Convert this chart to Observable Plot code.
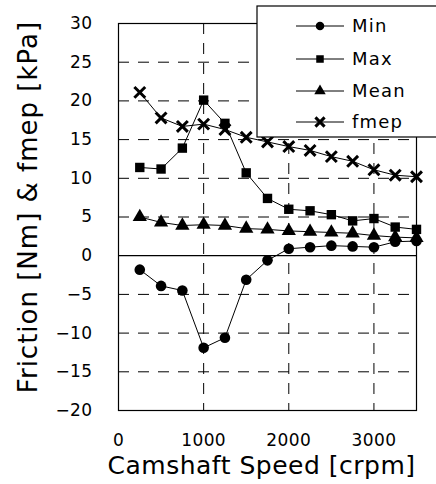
<!DOCTYPE html>
<html><head>
<meta charset="utf-8">
<script src="https://cdn.jsdelivr.net/npm/d3@7"></script>
<script src="https://cdn.jsdelivr.net/npm/@observablehq/plot@0.6"></script>
<style>
body{margin:0;background:#fff;}
#wrap{position:relative;width:436px;height:484px;overflow:hidden;}
#legend{position:absolute;left:0;top:0;}
</style>
</head><body><div id="wrap"></div>
<script>
const speeds = [250,500,750,1000,1250,1500,1750,2000,2250,2500,2750,3000,3250,3500];
const minVals  = [-1.8,-3.9,-4.5,-11.9,-10.6,-3.1,-0.6,0.9,1.1,1.3,1.2,1.1,1.8,1.9];
const maxVals  = [11.4,11.2,13.9,20.1,17.1,10.7,7.4,6.0,5.8,5.3,4.5,4.8,3.7,3.4];
const meanVals = [5.0,4.3,3.9,4.0,3.9,3.5,3.4,3.2,3.1,3.0,2.9,2.6,2.4,2.3];
const fmepVals = [21.1,17.8,16.7,17.0,16.3,15.3,14.7,14.1,13.6,12.8,12.2,11.1,10.4,10.2];
const seriesNames = ["Min","Max","Mean","fmep"];
const seriesSymbols = ["circle","square","triangle","times"];
const xTicks = [0,1000,2000,3000];
const yTicks = [-20,-15,-10,-5,0,5,10,15,20,25,30];
const gridXVals = [1000,2000,3000];
const gridYVals = [-15,-10,-5,5,10,15,20,25];
const xLabel = "Camshaft Speed [crpm]";
const yLabel = "Friction [Nm] & fmep [kPa]";

const valueSets = [minVals, maxVals, meanVals, fmepVals];
const data = [];
seriesNames.forEach((s, i) => speeds.forEach((x, j) => data.push({series: s, speed: x, value: valueSets[i][j]})));

const font = "'DejaVu Sans', sans-serif";
const chart = Plot.plot({
  width: 436, height: 484,
  marginLeft: 118, marginRight: 20, marginTop: 23, marginBottom: 74,
  style: {fontFamily: font, background: "#fff", color: "#000"},
  x: {domain: [0, 3500]},
  y: {domain: [-20, 30]},
  symbol: {domain: seriesNames, range: seriesSymbols},
  marks: [
    Plot.gridY(gridYVals, {stroke: "#000", strokeOpacity: 1, strokeDasharray: "11,9", strokeWidth: 1}),
    Plot.gridX(gridXVals, {stroke: "#000", strokeOpacity: 1, strokeDasharray: "11,9", strokeWidth: 1}),
    Plot.ruleY([0], {stroke: "#000", strokeWidth: 1.2}),
    Plot.frame({stroke: "#000", strokeWidth: 1.2}),
    Plot.axisX(xTicks, {tickSize: 0, tickPadding: 23, fontSize: 17, label: null, tickFormat: d => String(d)}),
    Plot.axisY(yTicks, {tickSize: 0, tickPadding: 26, fontSize: 17, label: null}),
    Plot.line(data, {x: "speed", y: "value", z: "series", stroke: "#000", strokeWidth: 1}),
    Plot.dot(data.filter(d => d.series !== "fmep"), {x: "speed", y: "value", symbol: "series", fill: "#000", r: 5.3}),
    Plot.dot(data.filter(d => d.series === "fmep"), {x: "speed", y: "value", symbol: "series", stroke: "#000", strokeWidth: 3, r: 5}),
    Plot.text([xLabel], {frameAnchor: "bottom", dx: -6, dy: 63, fontSize: 25, text: d => d}),
    Plot.text([yLabel], {frameAnchor: "left", textAnchor: "middle", dx: -90, dy: -10, rotate: -90, fontSize: 26, text: d => d})
  ]
});
const wrap = document.getElementById("wrap");
wrap.appendChild(chart);
d3.select(chart).selectAll("text").each(function() {
  const t = this.textContent;
  if (t === xLabel) d3.select(this).attr("letter-spacing", 0.5);
  else if (t === yLabel) d3.select(this).attr("letter-spacing", 1);
  else d3.select(this).attr("letter-spacing", 0.4);
});

// legend overlay
const svg = d3.select(wrap).append("svg").attr("id", "legend").attr("width", 436).attr("height", 484);
svg.append("rect").attr("x", 257).attr("y", 6).attr("width", 200).attr("height", 131)
  .attr("fill", "#fff").attr("stroke", "#000").attr("stroke-width", 1.2);
const rows = [26, 59, 91, 122];
seriesNames.forEach((s, i) => {
  const g = svg.append("g").attr("transform", `translate(0,${rows[i]})`);
  g.append("line").attr("x1", 296).attr("x2", 344).attr("stroke", "#000");
  const sym = {circle: d3.symbolCircle, square: d3.symbolSquare, triangle: d3.symbolTriangle, times: d3.symbolTimes}[seriesSymbols[i]];
  const p = g.append("path").attr("transform", "translate(320,0)").attr("d", d3.symbol(sym, Math.PI * 18)());
  if (seriesSymbols[i] === "times") p.attr("fill", "none").attr("stroke", "#000").attr("stroke-width", 3);
  else p.attr("fill", "#000");
  g.append("text").attr("x", 352).attr("y", 0).attr("dy", "0.36em").attr("font-family", font)
    .attr("font-size", 18).attr("letter-spacing", 1.2).text(s);
});
</script>
</body></html>
